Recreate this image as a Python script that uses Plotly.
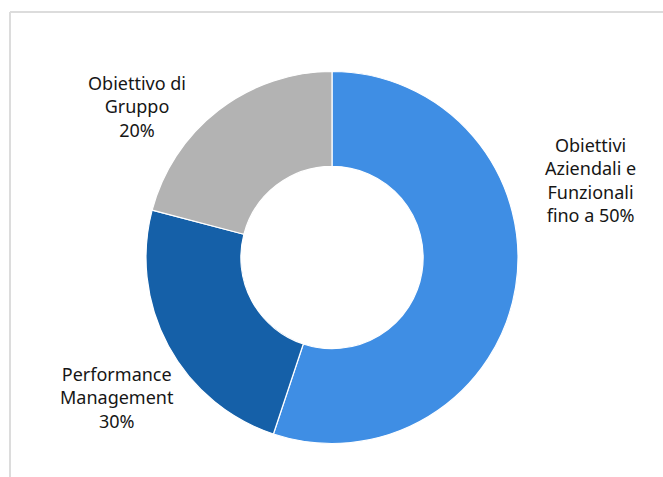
import plotly.graph_objects as go

W, H = 663, 477

labels = ["Obiettivi Aziendali e Funzionali", "Performance Management", "Obiettivo di Gruppo"]
values = [55.1, 24.0, 20.9]
colors = ["#3f8ee4", "#1560a8", "#b3b3b3"]
label_texts = [
    "Obiettivi<br>Aziendali e<br>Funzionali<br>fino a 50%",
    "Performance<br>Management<br>30%",
    "Obiettivo di<br>Gruppo<br>20%",
]
# label centres in pixels (x, y from top)
label_pos = [(590, 180), (117, 397), (137, 106)]

fig = go.Figure(go.Pie(
    labels=labels,
    values=values,
    marker=dict(colors=colors, line=dict(color="white", width=1.2)),
    hole=0.49,
    sort=False,
    direction="clockwise",
    rotation=0,
    textinfo="none",
    hoverinfo="label+percent",
    showlegend=False,
    domain=dict(x=[146 / W, 518 / W], y=[1 - 445 / H, 1 - 70 / H]),
))

for txt, (px, py) in zip(label_texts, label_pos):
    fig.add_annotation(
        x=px / W, y=1 - py / H, xref="paper", yref="paper",
        text=txt, showarrow=False, align="center",
        xanchor="center", yanchor="middle",
        font=dict(family="Noto Sans", size=18, color="#161616"),
    )

# frame lines (top and left)
fig.add_shape(type="line", xref="paper", yref="paper",
              x0=10 / W, x1=1, y0=1 - 12 / H, y1=1 - 12 / H,
              line=dict(color="#dcdcdc", width=2))
fig.add_shape(type="line", xref="paper", yref="paper",
              x0=10 / W, x1=10 / W, y0=0, y1=1 - 12 / H,
              line=dict(color="#dcdcdc", width=2))

fig.update_layout(
    width=W, height=H,
    margin=dict(l=0, r=0, t=0, b=0),
    paper_bgcolor="white",
    plot_bgcolor="white",
)

fig.write_html("out.html")
